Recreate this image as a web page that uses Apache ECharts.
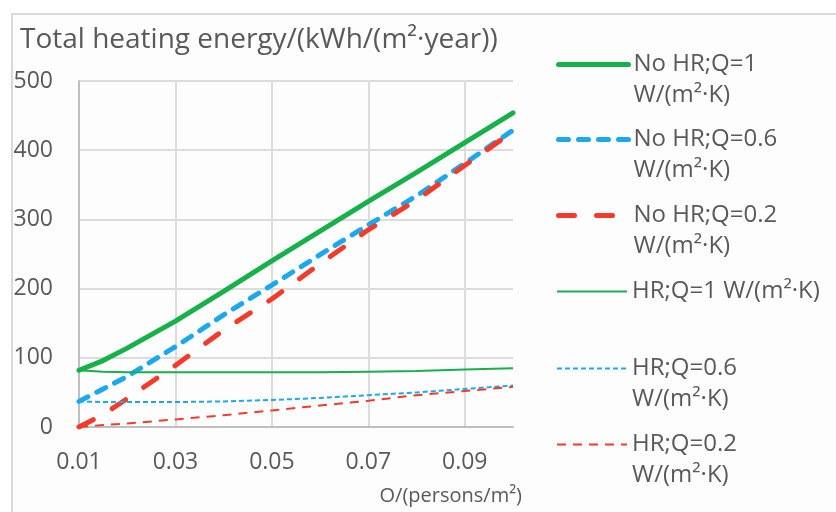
<!DOCTYPE html>
<html>
<head>
<meta charset="utf-8">
<title>Total heating energy</title>
<script src="https://cdn.jsdelivr.net/npm/echarts@6/dist/echarts.min.js"></script>
<style>
  html, body { margin: 0; padding: 0; background: #fff; }
  #main { width: 836px; height: 512px; }
</style>
</head>
<body>
<div id="main"></div>
<script>
  // occupancy density, persons/m2
  const xValues = [0.01, 0.015, 0.02, 0.03, 0.04, 0.05, 0.06, 0.07, 0.08, 0.09, 0.1];

  // total heating energy, kWh/(m2*year)
  const noHrQ1 = [82, 96, 114, 153, 196, 240, 283, 326, 368, 411, 454];
  const noHrQ06 = [37, 55, 73, 116, 162, 205, 249, 292, 334, 381, 429];
  const noHrQ02 = [0, 18, 41, 89, 140, 185, 236, 285, 328, 378, 427];
  const hrQ1 = [82, 80, 79, 79, 79, 79, 79, 80, 81, 83, 85];
  const hrQ06 = [37, 36, 36, 36, 37, 39, 42, 46, 50, 55, 60];
  const hrQ02 = [0, 3, 5, 11, 17, 24, 31, 38, 46, 52, 58];

  const seriesNames = [
    'No HR;Q=1 W/(m²·K)',
    'No HR;Q=0.6 W/(m²·K)',
    'No HR;Q=0.2 W/(m²·K)',
    'HR;Q=1 W/(m²·K)',
    'HR;Q=0.6 W/(m²·K)',
    'HR;Q=0.2 W/(m²·K)'
  ];
  const yTicks = [0, 100, 200, 300, 400, 500];
  const xTicks = [0.01, 0.03, 0.05, 0.07, 0.09];

  const GREEN = '#18b04a';
  const BLUE = '#1ca8ec';
  const RED = '#f23b2a';
  const TEXT = '#595959';
  const FONT = 'Open Sans';

  function pairs(ys) {
    return xValues.map((x, i) => [x, ys[i]]);
  }

  function makeSeries(name, ys, color, width, type, cap) {
    return {
      name: name,
      type: 'line',
      data: pairs(ys),
      symbol: 'none',
      smooth: false,
      lineStyle: { color: color, width: width, type: type, cap: cap || 'butt' },
      itemStyle: { color: color },
      emphasis: { disabled: true }
    };
  }

  // one legend per entry so the rows can sit where the original has them.
  // two-line labels get a blank first line so the icon lines up with the first text row
  const legendTops = [18, 93, 169, 276, 322, 398];
  const legends = seriesNames.map((name, i) => {
    const twoLines = name !== 'HR;Q=1 W/(m²·K)';
    return {
      data: [name],
      left: 556,
      top: legendTops[i],
      orient: 'vertical',
      padding: 0,
      itemWidth: 70,
      itemHeight: 14,
      itemGap: 0,
      selectedMode: false,
      itemStyle: { color: 'rgba(0,0,0,0)', borderColor: 'rgba(0,0,0,0)', borderWidth: 0 },
      lineStyle: { width: 'inherit', type: 'inherit', cap: 'inherit' },
      formatter: n => twoLines ? '\n' + n.replace(' W/', '\nW/') : n,
      textStyle: {
        color: TEXT,
        fontFamily: FONT,
        fontSize: 24,
        lineHeight: 31
      }
    };
  });

  const chart = echarts.init(document.getElementById('main'), null, { renderer: 'canvas' });
  chart.setOption({
    backgroundColor: '#ffffff',
    animation: false,
    textStyle: { fontFamily: FONT },
    graphic: [{
      type: 'rect',
      shape: { x: 12, y: 14, width: 900, height: 600 },
      style: { fill: '#fdfdfd', stroke: '#d9d9d9', lineWidth: 2 },
      z: -10
    }],
    title: [{
      text: 'Total heating energy/(kWh/(m²·year))',
      left: 20,
      top: 26,
      padding: 0,
      textStyle: { color: TEXT, fontFamily: FONT, fontSize: 28, fontWeight: 'normal' }
    }, {
      text: 'O/(persons/m²)',
      right: 314,
      top: 486,
      padding: 0,
      textStyle: { color: TEXT, fontFamily: FONT, fontSize: 20, fontWeight: 'normal' }
    }],
    legend: legends,
    grid: { left: 79, top: 81, width: 434, height: 346, outerBoundsMode: 'none', containLabel: false },
    xAxis: {
      type: 'value',
      min: xTicks[0],
      max: 0.1,
      interval: 0.02,
      axisLine: { show: true, lineStyle: { color: '#bfbfbf', width: 2 } },
      axisTick: { show: false },
      axisLabel: {
        color: TEXT, fontFamily: FONT, fontSize: 23, margin: 24,
        showMaxLabel: false,
        formatter: v => v.toFixed(2)
      },
      splitLine: { show: true, showMinLine: false, showMaxLine: false, lineStyle: { color: '#dcdcdc', width: 2 } }
    },
    yAxis: {
      type: 'value',
      min: yTicks[0],
      max: yTicks[yTicks.length - 1],
      interval: 100,
      axisLine: { show: true, lineStyle: { color: '#bfbfbf', width: 2 } },
      axisTick: { show: false },
      axisLabel: { color: TEXT, fontFamily: FONT, fontSize: 23, margin: 26 },
      splitLine: { show: true, lineStyle: { color: '#dcdcdc', width: 2 } }
    },
    series: [
      makeSeries(seriesNames[0], noHrQ1, GREEN, 5, 'solid', 'round'),
      makeSeries(seriesNames[1], noHrQ06, BLUE, 5, [10, 10], 'round'),
      makeSeries(seriesNames[2], noHrQ02, RED, 5, [16, 22], 'round'),
      makeSeries(seriesNames[3], hrQ1, GREEN, 2, 'solid'),
      makeSeries(seriesNames[4], hrQ06, BLUE, 2, [5, 3]),
      makeSeries(seriesNames[5], hrQ02, RED, 2, [9, 7])
    ]
  });
</script>
</body>
</html>
